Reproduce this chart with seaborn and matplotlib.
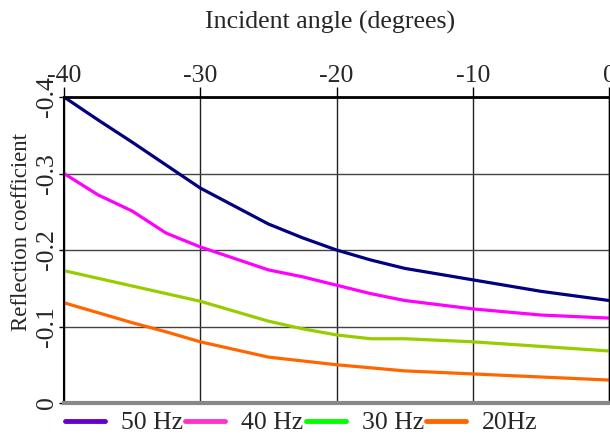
import matplotlib
matplotlib.use("Agg")
import matplotlib.pyplot as plt
from matplotlib.lines import Line2D
import seaborn as sns
import pandas as pd

angles = [-40, -37.5, -35, -32.5, -30, -25, -22.5, -20, -17.5, -15, -10, -5, 0]
hz50 = [-0.400, -0.370, -0.341, -0.311, -0.281, -0.234, -0.216, -0.200, -0.187, -0.176, -0.161, -0.146, -0.134]
hz40 = [-0.300, -0.272, -0.251, -0.222, -0.204, -0.174, -0.165, -0.154, -0.143, -0.134, -0.123, -0.115, -0.111]
hz30 = [-0.173, -0.163, -0.153, -0.143, -0.133, -0.107, -0.097, -0.089, -0.084, -0.084, -0.080, -0.074, -0.068]
hz20 = [-0.131, -0.118, -0.105, -0.093, -0.080, -0.060, -0.055, -0.050, -0.046, -0.042, -0.038, -0.034, -0.030]
series_names = ["50 Hz", "40 Hz", "30 Hz", "20Hz"]
line_colors = ["#000080", "#FF00FF", "#99CC00", "#FF6600"]
legend_colors = ["#6600CC", "#FF33CC", "#00FF00", "#FF6600"]
xticks = [-40, -30, -20, -10, 0]
yticks = [0, -0.1, -0.2, -0.3, -0.4]
ytick_labels = ["0", "-0.1", "-0.2", "-0.3", "-0.4"]

rows = []
for name, vals in zip(series_names, [hz50, hz40, hz30, hz20]):
    for a, v in zip(angles, vals):
        rows.append({"angle": a, "value": v, "series": name})
df = pd.DataFrame(rows)

sns.set_style("white")
plt.rcParams["font.family"] = ["Liberation Serif", "DejaVu Serif"]

fig = plt.figure(figsize=(6.1, 4.37), dpi=100)
ax = fig.add_axes([64/610, 1-403/437, (609-64)/610, (403-97)/437])

sns.lineplot(data=df, x="angle", y="value", hue="series", hue_order=series_names,
             palette=line_colors, linewidth=2.3, ax=ax, legend=False)

ax.set_xlim(-40, 0)
ax.set_ylim(0, -0.4)
ax.xaxis.tick_top()
ax.set_xticks(xticks)
ax.set_xticklabels([str(t) for t in xticks], fontsize=18.5)
ax.set_yticks(yticks)
ax.set_yticklabels(ytick_labels, fontsize=18.5, rotation=90, va="center")
ax.tick_params(axis="x", top=True, bottom=False, direction="out", length=7, width=1, pad=0, color="black")
ax.tick_params(axis="y", left=True, direction="out", length=3.6, width=1, pad=1, color="black")
ax.set_xlabel("")
ax.set_ylabel("")
ax.grid(True, axis="x", color="#222222", linewidth=1)
ax.grid(True, axis="y", color="#444444", linewidth=1)
ax.set_axisbelow(True)

ax.spines["top"].set_color("black")
ax.spines["top"].set_linewidth(2)
ax.spines["left"].set_color("black")
ax.spines["left"].set_linewidth(1.5)
ax.spines["bottom"].set_color("#888888")
ax.spines["bottom"].set_linewidth(3)
ax.spines["right"].set_color("black")
ax.spines["right"].set_linewidth(1)

fig.text(330/610, 1-22/437, "Incident angle (degrees)", ha="center", va="center", fontsize=18.6)
fig.text(22/610, 1-232/437, "Reflection coefficient", ha="center", va="center", fontsize=16.5, rotation=90)

handles = [Line2D([0], [0], color=c, linewidth=3.5) for c in legend_colors]
fig.legend(handles, series_names, loc="center left", bbox_to_anchor=(65/610, 1-423/437), ncol=4,
           frameon=False, fontsize=18.5, handlelength=1.55, handletextpad=0.62, columnspacing=0.1,
           borderpad=0, borderaxespad=0)

fig.savefig("out.png", dpi=100)
